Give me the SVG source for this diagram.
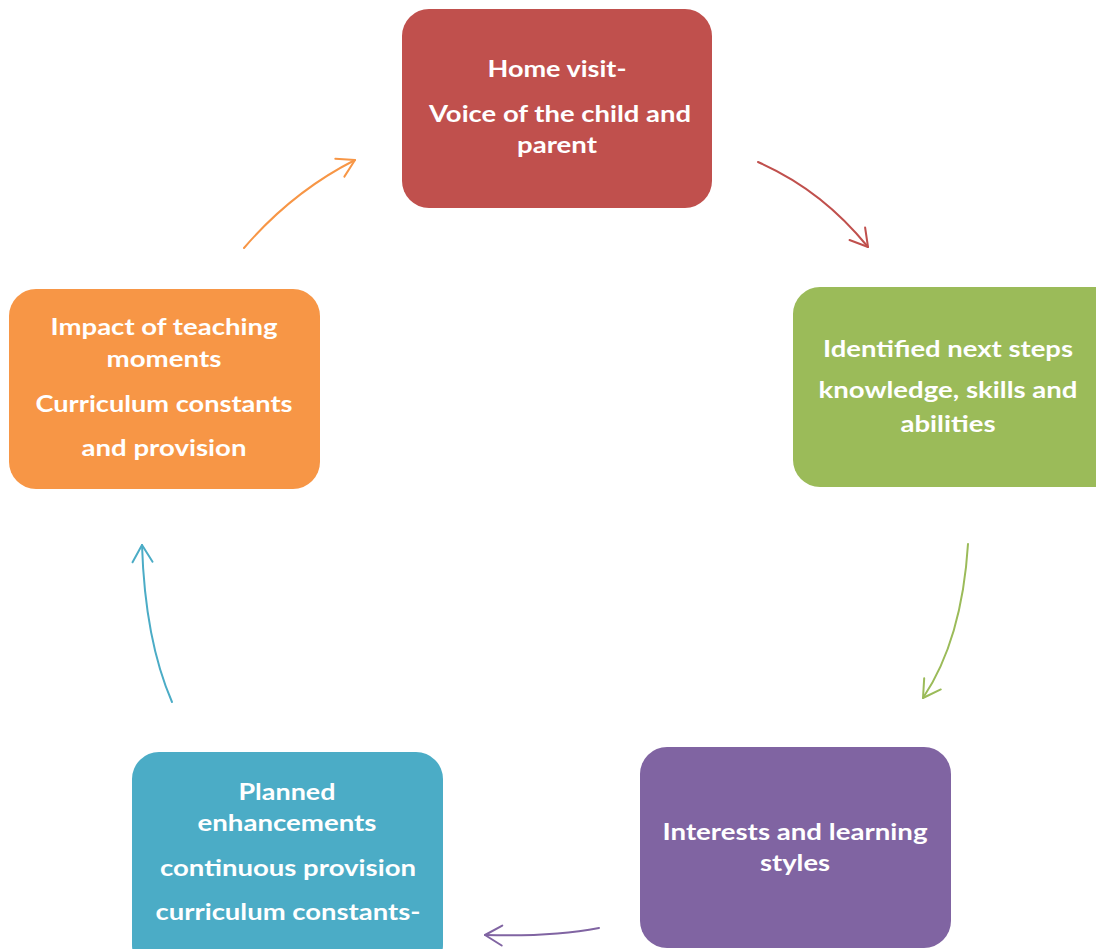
<svg xmlns="http://www.w3.org/2000/svg" width="1096" height="949" viewBox="0 0 1096 949">
<style>
.box{stroke:none}
.t{font-family:Lato,"Open Sans","Liberation Sans",sans-serif;font-weight:bold;font-size:22px;fill:#ffffff;text-anchor:middle}
.c{fill:none;stroke-width:2;stroke-linecap:round}
.h{fill:none;stroke-width:2;stroke-linecap:round;stroke-linejoin:round}
</style>
<defs>
<marker id="mo" markerUnits="userSpaceOnUse" markerWidth="40" markerHeight="40" viewBox="-20 -20 40 40" refX="0" refY="0" orient="auto"><path class="h" stroke="#F79646" d="M-17,-10 L0,0 L-17,10"/></marker>
<marker id="mr" markerUnits="userSpaceOnUse" markerWidth="40" markerHeight="40" viewBox="-20 -20 40 40" refX="0" refY="0" orient="auto"><path class="h" stroke="#C0504D" d="M-17,-10 L0,0 L-17,10"/></marker>
<marker id="mg" markerUnits="userSpaceOnUse" markerWidth="40" markerHeight="40" viewBox="-20 -20 40 40" refX="0" refY="0" orient="auto"><path class="h" stroke="#9BBB59" d="M-17,-10 L0,0 L-17,10"/></marker>
<marker id="mp" markerUnits="userSpaceOnUse" markerWidth="40" markerHeight="40" viewBox="-20 -20 40 40" refX="0" refY="0" orient="auto"><path class="h" stroke="#8064A2" d="M-17,-10 L0,0 L-17,10"/></marker>
<marker id="mb" markerUnits="userSpaceOnUse" markerWidth="40" markerHeight="40" viewBox="-20 -20 40 40" refX="0" refY="0" orient="auto"><path class="h" stroke="#4BACC6" d="M-17,-10 L0,0 L-17,10"/></marker>
</defs>
<rect width="1096" height="949" fill="#ffffff"/>
<g id="connectors">
<path class="c" stroke="#F79646" d="M244,248 Q292,192 355,160" marker-end="url(#mo)"/>
<path class="c" stroke="#C0504D" d="M758,162 Q822,190 868,247" marker-end="url(#mr)"/>
<path class="c" stroke="#9BBB59" d="M968,544 Q962,640 923,698" marker-end="url(#mg)"/>
<path class="c" stroke="#8064A2" d="M599,928 Q552,937 485,935" marker-end="url(#mp)"/>
<path class="c" stroke="#4BACC6" d="M172,702 Q145,640 142,545" marker-end="url(#mb)"/>
</g>
<g id="node-home">
<rect class="box" x="402" y="9" width="310" height="199" rx="27" fill="#C0504D"/>
<text class="t" x="557" y="77" textLength="139" lengthAdjust="spacingAndGlyphs">Home visit-</text>
<text class="t" x="560" y="122" textLength="262" lengthAdjust="spacingAndGlyphs">Voice of the child and</text>
<text class="t" x="557" y="153" textLength="80" lengthAdjust="spacingAndGlyphs">parent</text>
</g>
<g id="node-next">
<rect class="box" x="793" y="287" width="330" height="200" rx="27" fill="#9BBB59"/>
<text class="t" x="948" y="357" textLength="250" lengthAdjust="spacingAndGlyphs">Identified next steps</text>
<text class="t" x="948" y="398" textLength="259" lengthAdjust="spacingAndGlyphs">knowledge, skills and</text>
<text class="t" x="948" y="432" textLength="95" lengthAdjust="spacingAndGlyphs">abilities</text>
</g>
<g id="node-interests">
<rect class="box" x="640" y="747" width="311" height="201" rx="27" fill="#8064A2"/>
<text class="t" x="795" y="840" textLength="265" lengthAdjust="spacingAndGlyphs">Interests and learning</text>
<text class="t" x="795" y="871" textLength="70" lengthAdjust="spacingAndGlyphs">styles</text>
</g>
<g id="node-planned">
<rect class="box" x="132" y="752" width="311" height="220" rx="27" fill="#4BACC6"/>
<text class="t" x="287" y="800" textLength="97" lengthAdjust="spacingAndGlyphs">Planned</text>
<text class="t" x="287" y="831" textLength="179" lengthAdjust="spacingAndGlyphs">enhancements</text>
<text class="t" x="288" y="876" textLength="256" lengthAdjust="spacingAndGlyphs">continuous provision</text>
<text class="t" x="288" y="920" textLength="265" lengthAdjust="spacingAndGlyphs">curriculum constants-</text>
</g>
<g id="node-impact">
<rect class="box" x="9" y="289" width="311" height="200" rx="27" fill="#F79646"/>
<text class="t" x="164" y="335" textLength="227" lengthAdjust="spacingAndGlyphs">Impact of teaching</text>
<text class="t" x="164" y="367" textLength="115" lengthAdjust="spacingAndGlyphs">moments</text>
<text class="t" x="164" y="412" textLength="257" lengthAdjust="spacingAndGlyphs">Curriculum constants</text>
<text class="t" x="164" y="456" textLength="165" lengthAdjust="spacingAndGlyphs">and provision</text>
</g>
</svg>
